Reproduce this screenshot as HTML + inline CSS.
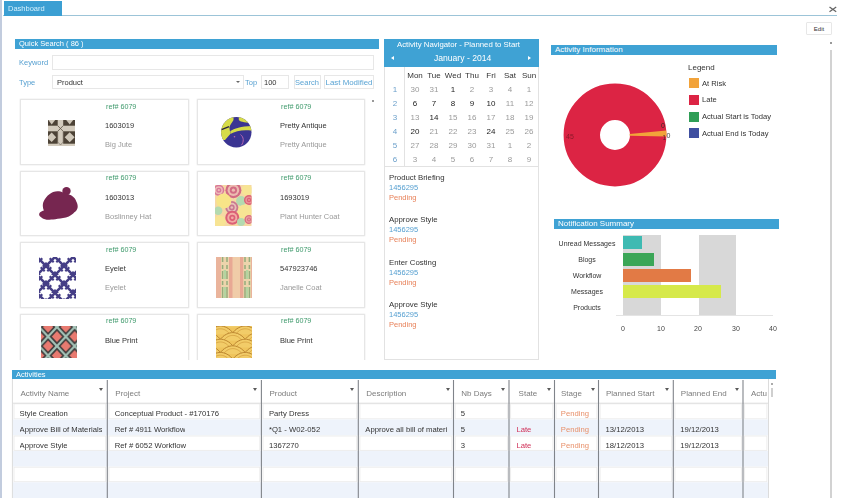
<!DOCTYPE html>
<html><head><meta charset="utf-8">
<style>
*{box-sizing:border-box;margin:0;padding:0}
html,body{width:841px;height:498px;overflow:hidden;background:#fff}
#w{position:absolute;left:0;top:0;width:841px;height:498px;filter:blur(.4px)}
body{font-family:"Liberation Sans",sans-serif;font-size:7.5px;color:#333;position:relative}
.a{position:absolute;white-space:nowrap;line-height:1}
.hd{position:absolute;background:#3fa2d4;color:#fff;font-size:7.5px;line-height:10px;padding-left:4px;white-space:nowrap;overflow:hidden}
.bl{color:#559fd0}
.gr{color:#999}
.or{color:#e8825a}
.gn{color:#3f9a6c}
.rd{color:#d03058}
.or2{color:#e8906a}
.card{position:absolute;border:1px solid #e6e6e6;background:#fff;width:168.4px;height:65.8px;box-shadow:0 0 1.5px #e0e0e0}
.inp{position:absolute;border:1px solid #e7e7e7;background:#fff}
.btn{position:absolute;border:1px solid #e7e7e7;background:#fff;color:#5aa4d4;text-align:center;line-height:13px;font-size:7.5px;white-space:nowrap}
.c{transform:translateX(-50%)}
.im{filter:blur(.35px)}
</style></head><body><div id="w">
<div class="a" style="left:0;top:0;width:2px;height:498px;background:#c2ccde"></div>
<div class="a" style="left:3px;top:15.2px;width:834px;height:1px;background:#9cc4d8"></div>
<div class="a" style="left:4px;top:1px;width:57.8px;height:14.8px;background:#3b9fd3;color:#d4f0fc;line-height:15px;padding-left:4px;font-size:7.5px">Dashboard</div>
<svg class="a" style="left:828px;top:5px" width="10" height="9"><path d="M1.5 2L8.2 6.8M8.2 2L1.5 6.8" stroke="#646464" stroke-width="1.25" fill="none"/></svg>
<div class="btn" style="left:806px;top:22px;width:26px;height:13px;color:#333;font-size:6px;line-height:12px;border-radius:1px">Edit</div>
<div class="a" style="left:830px;top:50px;width:2px;height:448px;background:#d2d2d2"></div>
<div class="a" style="left:830px;top:42px;width:2px;height:2px;background:#999"></div>

<div class="hd" style="left:15px;top:39px;width:364px;height:10px">Quick Search ( 86 )</div>
<div class="a bl" style="left:19px;top:59px">Keyword</div>
<div class="inp" style="left:51.5px;top:55px;width:322.5px;height:15px"></div>
<div class="a bl" style="left:19px;top:79px">Type</div>
<div class="inp" style="left:51.5px;top:75px;width:192px;height:14px"></div>
<div class="a" style="left:57px;top:79px">Product</div>
<div class="a" style="left:236px;top:81px;width:0;height:0;border-left:2px solid transparent;border-right:2px solid transparent;border-top:2px solid #666"></div>
<div class="a bl" style="left:245px;top:79px">Top</div>
<div class="inp" style="left:261px;top:75px;width:28px;height:14px"></div>
<div class="a" style="left:264px;top:79px">100</div>
<div class="btn" style="left:293.5px;top:75px;width:27px;height:14px">Search</div>
<div class="btn" style="left:324px;top:75px;width:50px;height:14px;font-size:7.9px">Last Modified</div>
<div class="a" style="left:372px;top:100px;width:2px;height:2px;background:#999"></div>

<div style="position:absolute;left:0;top:0;width:380px;height:360px;overflow:hidden">
<div class="card" style="left:20.2px;top:99px"></div>
<div class="a gn" style="left:106px;top:102.6px;font-size:7.2px">ref# 6079</div>
<div class="a" style="left:105px;top:122px">1603019</div>
<div class="a gr" style="left:105px;top:141px">Big Jute</div>
<svg class="a im" style="left:48.2px;top:120px" width="27.2" height="26"><rect width="27.2" height="26" fill="#d3cbbd"/><g fill="#4c4236"><rect x="0" y="0" width="9.7" height="5.7"/><rect x="15.2" y="0" width="12" height="5.7"/><rect x="0" y="11.3" width="9.7" height="12.4"/><rect x="15.2" y="11.3" width="12" height="12.4"/></g><g fill="#cfc7b9"><path d="M0.3 0H7.2L3.7 4.6Z"/><path d="M18.2 0H25.2L21.7 4.6Z"/><path d="M3.7 12.6L8.2 17.3L3.7 22L0 18.4V16.2Z"/><path d="M21.7 12.3L26.7 17.3L21.7 22.3L16.7 17.3Z"/></g><path d="M9.7 5.7L15.2 11.3M15.2 5.7L9.7 11.3" stroke="#5a5044" stroke-width=".8"/><path d="M9.7 11.3V22L12.5 25L15.2 22V11.3" stroke="#6a6054" stroke-width=".6" fill="none"/></svg>
<div class="card" style="left:196.9px;top:99px"></div>
<div class="a gn" style="left:281px;top:102.6px;font-size:7.2px">ref# 6079</div>
<div class="a" style="left:280px;top:122px">Pretty Antique</div>
<div class="a gr" style="left:280px;top:141px">Pretty Antique</div>
<svg class="a" style="left:221.4px;top:116.9px" width="31" height="31"><defs><clipPath id="ca"><circle cx="15.3" cy="15.2" r="15.2"/></clipPath></defs><g clip-path="url(#ca)"><rect width="31" height="31" fill="#3a3492"/><path d="M0 0H12.5V3C11 6 9 7.5 8.4 10.5L9.3 17L4 23L0 23Z" fill="#d6dc48"/><path d="M17.8 0H31V6.4C26 5 19.5 5.6 17.8 3Z" fill="#d6dc48"/><path d="M9.3 14C13 11.5 20 9 31 8.9V13.8C22 12.5 15 14 9.3 17.1Z" fill="#d6dc48"/><path d="M0.5 12.6L8 9.6" stroke="#2a2440" stroke-width="1.3"/><path d="M19.5 17.6C23 20 23 25 20.4 28.2" stroke="#b868b0" stroke-width="1" fill="none"/><circle cx="13.5" cy="19.7" r=".8" fill="#b868b0"/></g></svg>
<div class="card" style="left:20.2px;top:170.7px"></div>
<div class="a gn" style="left:106px;top:174.29999999999998px;font-size:7.2px">ref# 6079</div>
<div class="a" style="left:105px;top:193.7px">1603013</div>
<div class="a gr" style="left:105px;top:212.7px">Boslinney Hat</div>
<svg class="a" style="left:38px;top:186px" width="41" height="35"><circle cx="28.5" cy="5.1" r="4.2" fill="#762650"/><path d="M4.9 18C5.5 14 10 8 15.1 6C18 5 20.5 5.2 22.5 5.6L33.1 9.2C36 11 38 13.5 38.2 15.3C39.5 17.5 40 20 39.6 21.7C39 24 38 25.5 36.4 26.3C35 28 33 29.5 30.8 30.5C27 32 23 32.5 19.7 32.8C16 33.5 13 33.8 10.5 33.7C8 33.6 5.5 33 4 31.9C2.5 31 1.4 30 1.2 29.1C1 28 1.4 27 2.2 26.3C3.2 25.3 4.6 24.8 5.9 24.5C5 22.5 4.6 20 4.9 18Z" fill="#762650"/></svg>
<div class="card" style="left:196.9px;top:170.7px"></div>
<div class="a gn" style="left:281px;top:174.29999999999998px;font-size:7.2px">ref# 6079</div>
<div class="a" style="left:280px;top:193.7px">1693019</div>
<div class="a gr" style="left:280px;top:212.7px">Plant Hunter Coat</div>
<svg class="a im" style="left:215.3px;top:184.7px" width="36.5" height="41.3"><defs><clipPath id="cf"><rect width="36.5" height="41.3"/></clipPath></defs><g clip-path="url(#cf)"><rect width="37" height="42" fill="#f6d8a4"/><circle cx="3.8" cy="5.2" r="5.5" fill="#d8789a"/><circle cx="3.8" cy="5.2" r="4.0" fill="#efbcb8"/><circle cx="3.8" cy="5.2" r="2.5" fill="#d8789a"/><circle cx="3.8" cy="5.2" r="1.1" fill="#efbcb8"/><circle cx="32" cy="5.2" r="5.5" fill="#f7e494"/><circle cx="18.4" cy="5.2" r="8" fill="#d26c84"/><circle cx="18.4" cy="5.2" r="5.8" fill="#ecbcb0"/><circle cx="18.4" cy="5.2" r="3.6" fill="#d26c84"/><circle cx="18.4" cy="5.2" r="1.6" fill="#ecbcb0"/><circle cx="26" cy="16" r="5" fill="#b4dab0"/><circle cx="34" cy="15" r="5" fill="#dc6074"/><circle cx="34" cy="15" r="3.6" fill="#ea9498"/><circle cx="34" cy="15" r="2.2" fill="#dc6074"/><circle cx="34" cy="15" r="1.0" fill="#ea9498"/><circle cx="29.8" cy="26.9" r="7.5" fill="#f7e494"/><circle cx="16.8" cy="22.5" r="6.5" fill="#c87890"/><circle cx="16.8" cy="22.5" r="4.7" fill="#e8c0b8"/><circle cx="16.8" cy="22.5" r="2.9" fill="#c87890"/><circle cx="16.8" cy="22.5" r="1.3" fill="#e8c0b8"/><circle cx="8.7" cy="16" r="7.6" fill="#f8e488"/><circle cx="3.2" cy="25.8" r="4.2" fill="#b4dab0"/><circle cx="4.9" cy="36.6" r="6" fill="#f7e494"/><circle cx="17.3" cy="32.8" r="7" fill="#dc6076"/><circle cx="17.3" cy="32.8" r="5.0" fill="#f2aca4"/><circle cx="17.3" cy="32.8" r="3.1" fill="#dc6076"/><circle cx="17.3" cy="32.8" r="1.4" fill="#f2aca4"/><circle cx="26" cy="37" r="4" fill="#b4dab0"/><circle cx="34" cy="34.5" r="4.5" fill="#d86a80"/><circle cx="34" cy="34.5" r="3.2" fill="#eaa0a0"/><circle cx="34" cy="34.5" r="2.0" fill="#d86a80"/><circle cx="34" cy="34.5" r="0.9" fill="#eaa0a0"/></g></svg>
<div class="card" style="left:20.2px;top:242.2px"></div>
<div class="a gn" style="left:106px;top:245.79999999999998px;font-size:7.2px">ref# 6079</div>
<div class="a" style="left:105px;top:265.2px">Eyelet</div>
<div class="a gr" style="left:105px;top:284.2px">Eyelet</div>
<svg class="a im" style="left:39px;top:257px" width="37" height="42"><defs><pattern id="pe" width="18" height="18" x="-2" y="0" patternUnits="userSpaceOnUse"><path d="M-2 -2L20 20M20 -2L-2 20" stroke="#453e86" stroke-width="2.6"/><path d="M-2 -2L20 20M20 -2L-2 20" stroke="#453e86" stroke-width="5.6" stroke-dasharray="2.2 4.16"/></pattern></defs><rect width="37" height="42" fill="#fff"/><rect width="37" height="42" fill="url(#pe)"/></svg>
<div class="card" style="left:196.9px;top:242.2px"></div>
<div class="a gn" style="left:281px;top:245.79999999999998px;font-size:7.2px">ref# 6079</div>
<div class="a" style="left:280px;top:265.2px">547923746</div>
<div class="a gr" style="left:280px;top:284.2px">Janelle Coat</div>
<svg class="a im" style="left:215.6px;top:256.7px" width="36.2" height="41"><rect width="36.2" height="41" fill="#f0cca8"/><rect x="0" y="0" width="5" height="41" fill="#eab49c"/><rect x="13" y="0" width="3.5" height="41" fill="#e8a894"/><rect x="24" y="0" width="3.5" height="41" fill="#e8a894"/><rect x="35" y="0" width="1.2" height="41" fill="#eab49c"/><rect x="5" y="0" width="8" height="41" fill="#ecd4ac"/><rect x="27.5" y="0" width="7.5" height="41" fill="#ecd4ac"/><path d="M6.6 0v41M11 0v41M29 0v41M33.4 0v41" stroke="#94ac7c" stroke-width="1.5" stroke-dasharray="5 3 4 2 8 2 4 2 11 0"/><path d="M8.8 13v9M31.2 13v9M8.8 30v11M31.2 30v11" stroke="#b4d4a0" stroke-width="2.4"/></svg>
<div class="card" style="left:20.2px;top:313.7px"></div>
<div class="a gn" style="left:106px;top:317.3px;font-size:7.2px">ref# 6079</div>
<div class="a" style="left:105px;top:336.7px">Blue Print</div>
<svg class="a im" style="left:41px;top:326px" width="36" height="32"><defs><pattern id="pb" width="17.7" height="19" x="-1.75" y="1.1" patternUnits="userSpaceOnUse"><rect width="17.7" height="19" fill="#e87a70"/><path d="M-1 -1.07L18.7 20.07M18.7 -1.07L-1 20.07" stroke="#403c3c" stroke-width="5.4"/><path d="M-1 -1.07L18.7 20.07M18.7 -1.07L-1 20.07" stroke="#a4c4b8" stroke-width="2.2"/></pattern></defs><rect width="36" height="32" fill="url(#pb)"/></svg>
<div class="card" style="left:196.9px;top:313.7px"></div>
<div class="a gn" style="left:281px;top:317.3px;font-size:7.2px">ref# 6079</div>
<div class="a" style="left:280px;top:336.7px">Blue Print</div>
<svg class="a im" style="left:216px;top:326.4px" width="36.3" height="32"><defs><clipPath id="cw"><rect width="36.3" height="32"/></clipPath></defs><g clip-path="url(#cw)"><rect width="37" height="32" fill="#efc45c"/><g transform="translate(4.4,-6)"><path d="M-1 7.6C3 1.2 9 -0.6 12.4 -0.6C15.8 -0.6 21.8 1.2 25.8 7.6" fill="#f2cc68" stroke="#bc8630" stroke-width="1"/><path d="M3 7.6C6 3.4 9.5 2.2 12.4 2.2C15.3 2.2 18.8 3.4 21.8 7.6" fill="none" stroke="#d4a040" stroke-width=".8"/></g><g transform="translate(-20.4,-6)"><path d="M-1 7.6C3 1.2 9 -0.6 12.4 -0.6C15.8 -0.6 21.8 1.2 25.8 7.6" fill="#f2cc68" stroke="#bc8630" stroke-width="1"/><path d="M3 7.6C6 3.4 9.5 2.2 12.4 2.2C15.3 2.2 18.8 3.4 21.8 7.6" fill="none" stroke="#d4a040" stroke-width=".8"/></g><g transform="translate(29.2,-6)"><path d="M-1 7.6C3 1.2 9 -0.6 12.4 -0.6C15.8 -0.6 21.8 1.2 25.8 7.6" fill="#f2cc68" stroke="#bc8630" stroke-width="1"/><path d="M3 7.6C6 3.4 9.5 2.2 12.4 2.2C15.3 2.2 18.8 3.4 21.8 7.6" fill="none" stroke="#d4a040" stroke-width=".8"/></g><g transform="translate(-8,0.6)"><path d="M-1 7.6C3 1.2 9 -0.6 12.4 -0.6C15.8 -0.6 21.8 1.2 25.8 7.6" fill="#f2cc68" stroke="#bc8630" stroke-width="1"/><path d="M3 7.6C6 3.4 9.5 2.2 12.4 2.2C15.3 2.2 18.8 3.4 21.8 7.6" fill="none" stroke="#d4a040" stroke-width=".8"/></g><g transform="translate(16.8,0.6)"><path d="M-1 7.6C3 1.2 9 -0.6 12.4 -0.6C15.8 -0.6 21.8 1.2 25.8 7.6" fill="#f2cc68" stroke="#bc8630" stroke-width="1"/><path d="M3 7.6C6 3.4 9.5 2.2 12.4 2.2C15.3 2.2 18.8 3.4 21.8 7.6" fill="none" stroke="#d4a040" stroke-width=".8"/></g><g transform="translate(4.4,7.2)"><path d="M-1 7.6C3 1.2 9 -0.6 12.4 -0.6C15.8 -0.6 21.8 1.2 25.8 7.6" fill="#f2cc68" stroke="#bc8630" stroke-width="1"/><path d="M3 7.6C6 3.4 9.5 2.2 12.4 2.2C15.3 2.2 18.8 3.4 21.8 7.6" fill="none" stroke="#d4a040" stroke-width=".8"/></g><g transform="translate(-20.4,7.2)"><path d="M-1 7.6C3 1.2 9 -0.6 12.4 -0.6C15.8 -0.6 21.8 1.2 25.8 7.6" fill="#f2cc68" stroke="#bc8630" stroke-width="1"/><path d="M3 7.6C6 3.4 9.5 2.2 12.4 2.2C15.3 2.2 18.8 3.4 21.8 7.6" fill="none" stroke="#d4a040" stroke-width=".8"/></g><g transform="translate(29.2,7.2)"><path d="M-1 7.6C3 1.2 9 -0.6 12.4 -0.6C15.8 -0.6 21.8 1.2 25.8 7.6" fill="#f2cc68" stroke="#bc8630" stroke-width="1"/><path d="M3 7.6C6 3.4 9.5 2.2 12.4 2.2C15.3 2.2 18.8 3.4 21.8 7.6" fill="none" stroke="#d4a040" stroke-width=".8"/></g><g transform="translate(-8,13.8)"><path d="M-1 7.6C3 1.2 9 -0.6 12.4 -0.6C15.8 -0.6 21.8 1.2 25.8 7.6" fill="#f2cc68" stroke="#bc8630" stroke-width="1"/><path d="M3 7.6C6 3.4 9.5 2.2 12.4 2.2C15.3 2.2 18.8 3.4 21.8 7.6" fill="none" stroke="#d4a040" stroke-width=".8"/></g><g transform="translate(16.8,13.8)"><path d="M-1 7.6C3 1.2 9 -0.6 12.4 -0.6C15.8 -0.6 21.8 1.2 25.8 7.6" fill="#f2cc68" stroke="#bc8630" stroke-width="1"/><path d="M3 7.6C6 3.4 9.5 2.2 12.4 2.2C15.3 2.2 18.8 3.4 21.8 7.6" fill="none" stroke="#d4a040" stroke-width=".8"/></g><g transform="translate(4.4,20.4)"><path d="M-1 7.6C3 1.2 9 -0.6 12.4 -0.6C15.8 -0.6 21.8 1.2 25.8 7.6" fill="#f2cc68" stroke="#bc8630" stroke-width="1"/><path d="M3 7.6C6 3.4 9.5 2.2 12.4 2.2C15.3 2.2 18.8 3.4 21.8 7.6" fill="none" stroke="#d4a040" stroke-width=".8"/></g><g transform="translate(-20.4,20.4)"><path d="M-1 7.6C3 1.2 9 -0.6 12.4 -0.6C15.8 -0.6 21.8 1.2 25.8 7.6" fill="#f2cc68" stroke="#bc8630" stroke-width="1"/><path d="M3 7.6C6 3.4 9.5 2.2 12.4 2.2C15.3 2.2 18.8 3.4 21.8 7.6" fill="none" stroke="#d4a040" stroke-width=".8"/></g><g transform="translate(29.2,20.4)"><path d="M-1 7.6C3 1.2 9 -0.6 12.4 -0.6C15.8 -0.6 21.8 1.2 25.8 7.6" fill="#f2cc68" stroke="#bc8630" stroke-width="1"/><path d="M3 7.6C6 3.4 9.5 2.2 12.4 2.2C15.3 2.2 18.8 3.4 21.8 7.6" fill="none" stroke="#d4a040" stroke-width=".8"/></g><g transform="translate(-8,27)"><path d="M-1 7.6C3 1.2 9 -0.6 12.4 -0.6C15.8 -0.6 21.8 1.2 25.8 7.6" fill="#f2cc68" stroke="#bc8630" stroke-width="1"/><path d="M3 7.6C6 3.4 9.5 2.2 12.4 2.2C15.3 2.2 18.8 3.4 21.8 7.6" fill="none" stroke="#d4a040" stroke-width=".8"/></g><g transform="translate(16.8,27)"><path d="M-1 7.6C3 1.2 9 -0.6 12.4 -0.6C15.8 -0.6 21.8 1.2 25.8 7.6" fill="#f2cc68" stroke="#bc8630" stroke-width="1"/><path d="M3 7.6C6 3.4 9.5 2.2 12.4 2.2C15.3 2.2 18.8 3.4 21.8 7.6" fill="none" stroke="#d4a040" stroke-width=".8"/></g></g></svg>
</div>
<div class="a" style="left:384px;top:39px;width:155px;height:28px;background:#3fa2d4"></div>
<div class="a c" style="left:458.5px;top:41px;color:#fff;font-size:7.8px">Activity Navigator - Planned to Start</div>
<div class="a c" style="left:462.6px;top:54px;color:#fff;font-size:8.6px">January - 2014</div>
<div class="a" style="left:391px;top:56px;width:0;height:0;border-top:2px solid transparent;border-bottom:2px solid transparent;border-right:3px solid #fff"></div>
<div class="a" style="left:528px;top:56px;width:0;height:0;border-top:2px solid transparent;border-bottom:2px solid transparent;border-left:3px solid #fff"></div>
<div class="a" style="left:384px;top:67px;width:155px;height:293px;border:1px solid #e2e2e2;border-top:none"></div>
<div class="a" style="left:404px;top:67px;width:1px;height:99px;background:#e2e2e2"></div>
<div class="a" style="left:384px;top:166px;width:155px;height:1px;background:#e2e2e2"></div>

<div class="a c" style="left:415px;top:72px;font-size:8px">Mon</div>
<div class="a c" style="left:434px;top:72px;font-size:8px">Tue</div>
<div class="a c" style="left:453px;top:72px;font-size:8px">Wed</div>
<div class="a c" style="left:472px;top:72px;font-size:8px">Thu</div>
<div class="a c" style="left:491px;top:72px;font-size:8px">Fri</div>
<div class="a c" style="left:510px;top:72px;font-size:8px">Sat</div>
<div class="a c" style="left:529px;top:72px;font-size:8px">Sun</div>
<div class="a c" style="left:395px;top:86px;font-size:8px;color:#6a9fca">1</div>
<div class="a c" style="left:415px;top:86px;font-size:8px;color:#9a9a9a">30</div>
<div class="a c" style="left:434px;top:86px;font-size:8px;color:#9a9a9a">31</div>
<div class="a c" style="left:453px;top:86px;font-size:8px;color:#222">1</div>
<div class="a c" style="left:472px;top:86px;font-size:8px;color:#9a9a9a">2</div>
<div class="a c" style="left:491px;top:86px;font-size:8px;color:#9a9a9a">3</div>
<div class="a c" style="left:510px;top:86px;font-size:8px;color:#9a9a9a">4</div>
<div class="a c" style="left:529px;top:86px;font-size:8px;color:#9a9a9a">1</div>
<div class="a c" style="left:395px;top:100px;font-size:8px;color:#6a9fca">2</div>
<div class="a c" style="left:415px;top:100px;font-size:8px;color:#222">6</div>
<div class="a c" style="left:434px;top:100px;font-size:8px;color:#222">7</div>
<div class="a c" style="left:453px;top:100px;font-size:8px;color:#222">8</div>
<div class="a c" style="left:472px;top:100px;font-size:8px;color:#222">9</div>
<div class="a c" style="left:491px;top:100px;font-size:8px;color:#222">10</div>
<div class="a c" style="left:510px;top:100px;font-size:8px;color:#9a9a9a">11</div>
<div class="a c" style="left:529px;top:100px;font-size:8px;color:#9a9a9a">12</div>
<div class="a c" style="left:395px;top:114px;font-size:8px;color:#6a9fca">3</div>
<div class="a c" style="left:415px;top:114px;font-size:8px;color:#9a9a9a">13</div>
<div class="a c" style="left:434px;top:114px;font-size:8px;color:#222">14</div>
<div class="a c" style="left:453px;top:114px;font-size:8px;color:#9a9a9a">15</div>
<div class="a c" style="left:472px;top:114px;font-size:8px;color:#9a9a9a">16</div>
<div class="a c" style="left:491px;top:114px;font-size:8px;color:#9a9a9a">17</div>
<div class="a c" style="left:510px;top:114px;font-size:8px;color:#9a9a9a">18</div>
<div class="a c" style="left:529px;top:114px;font-size:8px;color:#9a9a9a">19</div>
<div class="a c" style="left:395px;top:128px;font-size:8px;color:#6a9fca">4</div>
<div class="a c" style="left:415px;top:128px;font-size:8px;color:#222">20</div>
<div class="a c" style="left:434px;top:128px;font-size:8px;color:#9a9a9a">21</div>
<div class="a c" style="left:453px;top:128px;font-size:8px;color:#9a9a9a">22</div>
<div class="a c" style="left:472px;top:128px;font-size:8px;color:#9a9a9a">23</div>
<div class="a c" style="left:491px;top:128px;font-size:8px;color:#222">24</div>
<div class="a c" style="left:510px;top:128px;font-size:8px;color:#9a9a9a">25</div>
<div class="a c" style="left:529px;top:128px;font-size:8px;color:#9a9a9a">26</div>
<div class="a c" style="left:395px;top:142px;font-size:8px;color:#6a9fca">5</div>
<div class="a c" style="left:415px;top:142px;font-size:8px;color:#9a9a9a">27</div>
<div class="a c" style="left:434px;top:142px;font-size:8px;color:#9a9a9a">28</div>
<div class="a c" style="left:453px;top:142px;font-size:8px;color:#9a9a9a">29</div>
<div class="a c" style="left:472px;top:142px;font-size:8px;color:#9a9a9a">30</div>
<div class="a c" style="left:491px;top:142px;font-size:8px;color:#9a9a9a">31</div>
<div class="a c" style="left:510px;top:142px;font-size:8px;color:#9a9a9a">1</div>
<div class="a c" style="left:529px;top:142px;font-size:8px;color:#9a9a9a">2</div>
<div class="a c" style="left:395px;top:156px;font-size:8px;color:#6a9fca">6</div>
<div class="a c" style="left:415px;top:156px;font-size:8px;color:#9a9a9a">3</div>
<div class="a c" style="left:434px;top:156px;font-size:8px;color:#9a9a9a">4</div>
<div class="a c" style="left:453px;top:156px;font-size:8px;color:#9a9a9a">5</div>
<div class="a c" style="left:472px;top:156px;font-size:8px;color:#9a9a9a">6</div>
<div class="a c" style="left:491px;top:156px;font-size:8px;color:#9a9a9a">7</div>
<div class="a c" style="left:510px;top:156px;font-size:8px;color:#9a9a9a">8</div>
<div class="a c" style="left:529px;top:156px;font-size:8px;color:#9a9a9a">9</div>
<div class="a" style="left:389px;top:174px;font-size:7.8px">Product Briefing</div>
<div class="a bl" style="left:389px;top:184px;font-size:7.5px">1456295</div>
<div class="a or" style="left:389px;top:194px;font-size:7.5px">Pending</div>
<div class="a" style="left:389px;top:215.5px;font-size:7.8px">Approve Style</div>
<div class="a bl" style="left:389px;top:225.5px;font-size:7.5px">1456295</div>
<div class="a or" style="left:389px;top:235.5px;font-size:7.5px">Pending</div>
<div class="a" style="left:389px;top:258.5px;font-size:7.8px">Enter Costing</div>
<div class="a bl" style="left:389px;top:268.5px;font-size:7.5px">1456295</div>
<div class="a or" style="left:389px;top:278.5px;font-size:7.5px">Pending</div>
<div class="a" style="left:389px;top:301px;font-size:7.8px">Approve Style</div>
<div class="a bl" style="left:389px;top:311px;font-size:7.5px">1456295</div>
<div class="a or" style="left:389px;top:321px;font-size:7.5px">Pending</div>
<div class="hd" style="left:551px;top:45px;width:226px;height:10px;line-height:10.5px;font-size:8px">Activity Information</div>
<svg class="a" style="left:558.9px;top:78.7px" width="112" height="112" viewBox="-56 -56 112 112">
<circle r="33.2" fill="none" stroke="#dc2444" stroke-width="36.4"/>
<path d="M14.6 -0.9L51.3 -4.6A51.6 51.6 0 0 1 51.5 1.5L14.6 0.8Z" fill="#f2a33a"/>
</svg>
<div class="a" style="left:566px;top:133px;font-size:7px;color:#8a1a2a">45</div>
<div class="a" style="left:661px;top:121.5px;font-size:7px;color:#3a2a2a">0</div>
<div class="a" style="left:666.5px;top:132px;font-size:7px;color:#444">0</div>
<div class="a" style="left:662.5px;top:134.5px;font-size:6.5px;color:#5a2a2a">1</div>
<div class="a" style="left:688px;top:64px;font-size:8px">Legend</div>

<div class="a" style="left:689px;top:78px;width:10px;height:10px;background:#f2a33a"></div>
<div class="a" style="left:702px;top:79.8px;font-size:7.6px">At Risk</div>
<div class="a" style="left:689px;top:94.5px;width:10px;height:10px;background:#dc2444"></div>
<div class="a" style="left:702px;top:96.3px;font-size:7.6px">Late</div>
<div class="a" style="left:689px;top:111.5px;width:10px;height:10px;background:#2f9e56"></div>
<div class="a" style="left:702px;top:113.3px;font-size:7.6px">Actual Start is Today</div>
<div class="a" style="left:689px;top:128px;width:10px;height:10px;background:#3f4fa0"></div>
<div class="a" style="left:702px;top:129.8px;font-size:7.6px">Actual End is Today</div>
<div class="hd" style="left:554px;top:219px;width:225px;height:10px;font-size:8px">Notification Summary</div>
<div class="a" style="left:623px;top:235px;width:38px;height:80px;background:#d8d8d8"></div>
<div class="a" style="left:699px;top:235px;width:37px;height:80px;background:#d8d8d8"></div>
<div class="a" style="left:616px;top:315px;width:157px;height:1px;background:#e4e4e4"></div>

<div class="a" style="left:623px;top:236px;width:19px;height:13px;background:#3ebab2"></div>
<div class="a c" style="left:587px;top:239.5px;font-size:7px">Unread Messages</div>
<div class="a" style="left:623px;top:252.5px;width:30.5px;height:13px;background:#3ba657"></div>
<div class="a c" style="left:587px;top:256.0px;font-size:7px">Blogs</div>
<div class="a" style="left:623px;top:268.5px;width:68px;height:13px;background:#e27a45"></div>
<div class="a c" style="left:587px;top:272.0px;font-size:7px">Workflow</div>
<div class="a" style="left:623px;top:284.5px;width:98px;height:13px;background:#d6e94a"></div>
<div class="a c" style="left:587px;top:288.0px;font-size:7px">Messages</div>
<div class="a c" style="left:587px;top:304.0px;font-size:7px">Products</div>
<div class="a c" style="left:623px;top:325px;font-size:7px;color:#444">0</div>
<div class="a c" style="left:661px;top:325px;font-size:7px;color:#444">10</div>
<div class="a c" style="left:698px;top:325px;font-size:7px;color:#444">20</div>
<div class="a c" style="left:736px;top:325px;font-size:7px;color:#444">30</div>
<div class="a c" style="left:773px;top:325px;font-size:7px;color:#444">40</div>
<div class="hd" style="left:12px;top:369.5px;width:764px;height:9.5px;line-height:9.5px">Activities</div>
<svg class="a" style="left:0;top:379px" width="841" height="119" viewBox="0 379 841 119"><rect x="14.0" y="403.8" width="91.7" height="15.0" fill="#fff" stroke="#ebebeb" stroke-width="0.9"/><rect x="108.89999999999999" y="403.8" width="150.9" height="15.0" fill="#fff" stroke="#ebebeb" stroke-width="0.9"/><rect x="263.0" y="403.8" width="93.7" height="15.0" fill="#fff" stroke="#ebebeb" stroke-width="0.9"/><rect x="359.90000000000003" y="403.8" width="92.0" height="15.0" fill="#fff" stroke="#ebebeb" stroke-width="0.9"/><rect x="455.1" y="403.8" width="52.3" height="15.0" fill="#fff" stroke="#ebebeb" stroke-width="0.9"/><rect x="510.6" y="403.8" width="42.3" height="15.0" fill="#fff" stroke="#ebebeb" stroke-width="0.9"/><rect x="556.1" y="403.8" width="40.8" height="15.0" fill="#fff" stroke="#ebebeb" stroke-width="0.9"/><rect x="600.1" y="403.8" width="71.6" height="15.0" fill="#fff" stroke="#ebebeb" stroke-width="0.9"/><rect x="674.9" y="403.8" width="66.5" height="15.0" fill="#fff" stroke="#ebebeb" stroke-width="0.9"/><rect x="744.6" y="403.8" width="22.3" height="15.0" fill="#fff" stroke="#ebebeb" stroke-width="0.9"/><rect x="12.4" y="419.4" width="756.1" height="16.0" fill="#eef3fb"/><rect x="14.0" y="436.0" width="91.7" height="14.4" fill="#fff" stroke="#ebebeb" stroke-width="0.9"/><rect x="108.89999999999999" y="436.0" width="150.9" height="14.4" fill="#fff" stroke="#ebebeb" stroke-width="0.9"/><rect x="263.0" y="436.0" width="93.7" height="14.4" fill="#fff" stroke="#ebebeb" stroke-width="0.9"/><rect x="359.90000000000003" y="436.0" width="92.0" height="14.4" fill="#fff" stroke="#ebebeb" stroke-width="0.9"/><rect x="455.1" y="436.0" width="52.3" height="14.4" fill="#fff" stroke="#ebebeb" stroke-width="0.9"/><rect x="510.6" y="436.0" width="42.3" height="14.4" fill="#fff" stroke="#ebebeb" stroke-width="0.9"/><rect x="556.1" y="436.0" width="40.8" height="14.4" fill="#fff" stroke="#ebebeb" stroke-width="0.9"/><rect x="600.1" y="436.0" width="71.6" height="14.4" fill="#fff" stroke="#ebebeb" stroke-width="0.9"/><rect x="674.9" y="436.0" width="66.5" height="14.4" fill="#fff" stroke="#ebebeb" stroke-width="0.9"/><rect x="744.6" y="436.0" width="22.3" height="14.4" fill="#fff" stroke="#ebebeb" stroke-width="0.9"/><rect x="12.4" y="451" width="756.1" height="15.6" fill="#eef3fb"/><rect x="14.0" y="467.20000000000005" width="91.7" height="14.5" fill="#fff" stroke="#ebebeb" stroke-width="0.9"/><rect x="108.89999999999999" y="467.20000000000005" width="150.9" height="14.5" fill="#fff" stroke="#ebebeb" stroke-width="0.9"/><rect x="263.0" y="467.20000000000005" width="93.7" height="14.5" fill="#fff" stroke="#ebebeb" stroke-width="0.9"/><rect x="359.90000000000003" y="467.20000000000005" width="92.0" height="14.5" fill="#fff" stroke="#ebebeb" stroke-width="0.9"/><rect x="455.1" y="467.20000000000005" width="52.3" height="14.5" fill="#fff" stroke="#ebebeb" stroke-width="0.9"/><rect x="510.6" y="467.20000000000005" width="42.3" height="14.5" fill="#fff" stroke="#ebebeb" stroke-width="0.9"/><rect x="556.1" y="467.20000000000005" width="40.8" height="14.5" fill="#fff" stroke="#ebebeb" stroke-width="0.9"/><rect x="600.1" y="467.20000000000005" width="71.6" height="14.5" fill="#fff" stroke="#ebebeb" stroke-width="0.9"/><rect x="674.9" y="467.20000000000005" width="66.5" height="14.5" fill="#fff" stroke="#ebebeb" stroke-width="0.9"/><rect x="744.6" y="467.20000000000005" width="22.3" height="14.5" fill="#fff" stroke="#ebebeb" stroke-width="0.9"/><rect x="12.4" y="482.3" width="756.1" height="16.2" fill="#eef3fb"/><path d="M12.4 403.2H768.5" stroke="#dedede" stroke-width="1"/><path d="M12.4 379V498M768.5 379V498" stroke="#dcdcdc" stroke-width="1"/><path d="M107.3 380V498" stroke="#80848a" stroke-width="1.1"/><path d="M261.4 380V498" stroke="#80848a" stroke-width="1.1"/><path d="M358.3 380V498" stroke="#80848a" stroke-width="1.1"/><path d="M453.5 380V498" stroke="#80848a" stroke-width="1.1"/><path d="M509 380V498" stroke="#80848a" stroke-width="1.1"/><path d="M554.5 380V498" stroke="#80848a" stroke-width="1.1"/><path d="M598.5 380V498" stroke="#80848a" stroke-width="1.1"/><path d="M673.3 380V498" stroke="#80848a" stroke-width="1.1"/><path d="M743 380V498" stroke="#80848a" stroke-width="1.1"/></svg>
<div class="a" style="left:20.4px;top:389.5px;font-size:8px;color:#7c7c7c">Activity Name</div>
<div class="a" style="left:99.3px;top:388px;width:0;height:0;border-left:2px solid transparent;border-right:2px solid transparent;border-top:3px solid #5a5a5a"></div>
<div class="a" style="left:115.3px;top:389.5px;font-size:8px;color:#7c7c7c">Project</div>
<div class="a" style="left:253.4px;top:388px;width:0;height:0;border-left:2px solid transparent;border-right:2px solid transparent;border-top:3px solid #5a5a5a"></div>
<div class="a" style="left:269.4px;top:389.5px;font-size:8px;color:#7c7c7c">Product</div>
<div class="a" style="left:350.3px;top:388px;width:0;height:0;border-left:2px solid transparent;border-right:2px solid transparent;border-top:3px solid #5a5a5a"></div>
<div class="a" style="left:366.3px;top:389.5px;font-size:8px;color:#7c7c7c">Description</div>
<div class="a" style="left:445.5px;top:388px;width:0;height:0;border-left:2px solid transparent;border-right:2px solid transparent;border-top:3px solid #5a5a5a"></div>
<div class="a" style="left:461.2px;top:389.5px;font-size:8px;color:#7c7c7c">Nb Days</div>
<div class="a" style="left:501.0px;top:388px;width:0;height:0;border-left:2px solid transparent;border-right:2px solid transparent;border-top:3px solid #5a5a5a"></div>
<div class="a" style="left:518.6px;top:389.5px;font-size:8px;color:#7c7c7c">State</div>
<div class="a" style="left:546.5px;top:388px;width:0;height:0;border-left:2px solid transparent;border-right:2px solid transparent;border-top:3px solid #5a5a5a"></div>
<div class="a" style="left:561.0px;top:389.5px;font-size:8px;color:#7c7c7c">Stage</div>
<div class="a" style="left:590.5px;top:388px;width:0;height:0;border-left:2px solid transparent;border-right:2px solid transparent;border-top:3px solid #5a5a5a"></div>
<div class="a" style="left:606.0px;top:389.5px;font-size:8px;color:#7c7c7c">Planned Start</div>
<div class="a" style="left:665.3px;top:388px;width:0;height:0;border-left:2px solid transparent;border-right:2px solid transparent;border-top:3px solid #5a5a5a"></div>
<div class="a" style="left:680.8px;top:389.5px;font-size:8px;color:#7c7c7c">Planned End</div>
<div class="a" style="left:735.0px;top:388px;width:0;height:0;border-left:2px solid transparent;border-right:2px solid transparent;border-top:3px solid #5a5a5a"></div>
<div class="a" style="left:751.0px;top:389.5px;font-size:8px;color:#7c7c7c">Actu</div>
<div class="a " style="left:19.6px;top:408.8px;font-size:7.7px;line-height:10px;height:11px;max-width:86.9px;overflow:hidden">Style Creation</div>
<div class="a " style="left:114.8px;top:408.8px;font-size:7.7px;line-height:10px;height:11px;max-width:146.1px;overflow:hidden">Conceptual Product - #170176</div>
<div class="a " style="left:268.9px;top:408.8px;font-size:7.7px;line-height:10px;height:11px;max-width:88.9px;overflow:hidden">Party Dress</div>
<div class="a " style="left:460.8px;top:408.8px;font-size:7.7px;line-height:10px;height:11px;max-width:47.5px;overflow:hidden">5</div>
<div class="a or2" style="left:560.8px;top:408.8px;font-size:7.7px;line-height:10px;height:11px;max-width:36.0px;overflow:hidden">Pending</div>
<div class="a " style="left:19.6px;top:424.8px;font-size:7.7px;line-height:10px;height:11px;max-width:86.9px;overflow:hidden">Approve Bill of Materials</div>
<div class="a " style="left:114.8px;top:424.8px;font-size:7.7px;line-height:10px;height:11px;max-width:146.1px;overflow:hidden">Ref # 4911 Workflow</div>
<div class="a " style="left:268.9px;top:424.8px;font-size:7.7px;line-height:10px;height:11px;max-width:88.9px;overflow:hidden">*Q1 - W02-052</div>
<div class="a " style="left:365.3px;top:424.8px;font-size:7.7px;line-height:10px;height:11px;max-width:87.2px;overflow:hidden">Approve all bill of materi</div>
<div class="a " style="left:460.8px;top:424.8px;font-size:7.7px;line-height:10px;height:11px;max-width:47.5px;overflow:hidden">5</div>
<div class="a rd" style="left:516.4px;top:424.8px;font-size:7.7px;line-height:10px;height:11px;max-width:37.5px;overflow:hidden">Late</div>
<div class="a or2" style="left:560.8px;top:424.8px;font-size:7.7px;line-height:10px;height:11px;max-width:36.0px;overflow:hidden">Pending</div>
<div class="a " style="left:605.5px;top:424.8px;font-size:7.7px;line-height:10px;height:11px;max-width:66.8px;overflow:hidden">13/12/2013</div>
<div class="a " style="left:680.3px;top:424.8px;font-size:7.7px;line-height:10px;height:11px;max-width:61.7px;overflow:hidden">19/12/2013</div>
<div class="a " style="left:19.6px;top:440.5px;font-size:7.7px;line-height:10px;height:11px;max-width:86.9px;overflow:hidden">Approve Style</div>
<div class="a " style="left:114.8px;top:440.5px;font-size:7.7px;line-height:10px;height:11px;max-width:146.1px;overflow:hidden">Ref # 6052 Workflow</div>
<div class="a " style="left:268.9px;top:440.5px;font-size:7.7px;line-height:10px;height:11px;max-width:88.9px;overflow:hidden">1367270</div>
<div class="a " style="left:460.8px;top:440.5px;font-size:7.7px;line-height:10px;height:11px;max-width:47.5px;overflow:hidden">3</div>
<div class="a rd" style="left:516.4px;top:440.5px;font-size:7.7px;line-height:10px;height:11px;max-width:37.5px;overflow:hidden">Late</div>
<div class="a or2" style="left:560.8px;top:440.5px;font-size:7.7px;line-height:10px;height:11px;max-width:36.0px;overflow:hidden">Pending</div>
<div class="a " style="left:605.5px;top:440.5px;font-size:7.7px;line-height:10px;height:11px;max-width:66.8px;overflow:hidden">18/12/2013</div>
<div class="a " style="left:680.3px;top:440.5px;font-size:7.7px;line-height:10px;height:11px;max-width:61.7px;overflow:hidden">19/12/2013</div>
<div class="a" style="left:770.5px;top:388px;width:2px;height:9px;background:#cfcfcf"></div>
<div class="a" style="left:770.5px;top:383px;width:2px;height:2px;background:#aaa"></div>
</div></body></html>
